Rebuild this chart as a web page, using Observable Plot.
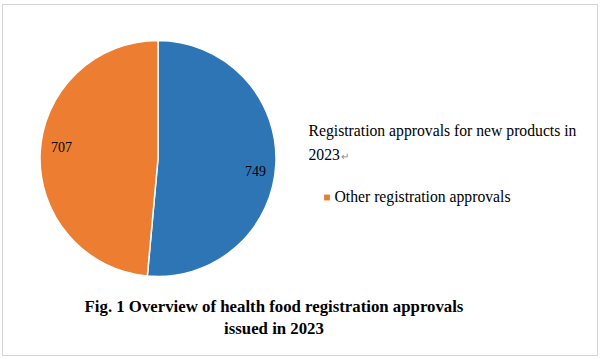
<!DOCTYPE html>
<html>
<head>
<meta charset="utf-8">
<script src="https://cdn.jsdelivr.net/npm/d3@7"></script>
<script src="https://cdn.jsdelivr.net/npm/@observablehq/plot@0.6"></script>
<style>
  html, body { margin: 0; padding: 0; background: #fff; }
  #wrap { position: relative; width: 601px; height: 359px; overflow: hidden; font-family: "Liberation Serif", "Times New Roman", serif; }
  #frame { position: absolute; left: 2px; top: 4px; width: 594px; height: 350px; border: 1px solid #d4d4d4; }
  #chart { position: absolute; left: 0; top: 0; }
  #caption { position: absolute; left: 0; top: 296px; width: 548px; text-align: center; font-weight: bold; font-size: 16.8px; line-height: 22px; color: #000; }
</style>
</head>
<body>
<div id="wrap">
  <div id="frame"></div>
  <div id="chart"></div>
  <div id="caption"></div>
</div>
<script>
// ---- data ----
const categories = ["Registration approvals for new products in 2023", "Other registration approvals"];
const values = [749, 707];
const colors = ["#2E75B6", "#ED7D31"];
const legendLabels = ["Registration approvals for new products in\n2023\u21B5", "Other registration approvals"];
const captionLines = ["Fig. 1 Overview of health food registration approvals", "issued in 2023"];

// ---- layout ----
const W = 601, H = 290;
const cx = 158, cy = 158.5, R = 118, labelR = 97;
const labelDy = [9.5, -6.5];

const data = categories.map((c, i) => ({category: c, value: values[i], color: colors[i]}));
const arcs = d3.pie().sort(null).value(d => d.value)(data);
const arcGen = d3.arc().innerRadius(0).outerRadius(R);
const labelArc = d3.arc().innerRadius(labelR).outerRadius(labelR);
const labels = arcs.map((a, i) => {
  const [x, y] = labelArc.centroid(a);
  return {x: cx + x, y: cy + y + labelDy[i], text: String(a.data.value)};
});

const legend = [
  {x: 308, y: 143, text: legendLabels[0], marker: false, color: colors[0]},
  {x: 334, y: 197, text: legendLabels[1], marker: true, color: colors[1]}
];

const pieMark = () => {
  const g = d3.create("svg:g").attr("transform", `translate(${cx},${cy})`);
  g.selectAll("path").data(arcs).join("path")
    .attr("d", arcGen)
    .attr("fill", d => d.data.color)
    .attr("stroke", "#fff")
    .attr("stroke-width", 1.5)
    .attr("stroke-linejoin", "round");
  return g.node();
};

const plot = Plot.plot({
  width: W,
  height: H,
  margin: 0,
  x: {type: "identity", axis: null},
  y: {type: "identity", axis: null},
  style: {background: "transparent", fontFamily: "'Liberation Serif', 'Times New Roman', serif"},
  marks: [
    pieMark,
    Plot.text(labels, {x: "x", y: "y", text: "text", fontSize: 14, fill: "#000", dy: -1}),
    Plot.text(legend, {x: "x", y: "y", text: "text", textAnchor: "start", lineAnchor: "middle", lineHeight: 1.52, fontSize: 15.7, fill: "#000", dy: -3}),
    Plot.dot(legend.filter(d => d.marker), {x: d => d.x - 7.5, y: "y", symbol: "square", r: 3.3, fill: "color", stroke: null})
  ]
});

// grey the paragraph mark
d3.select(plot).selectAll("tspan, text").each(function() {
  const el = this;
  if (el.childElementCount === 0 && el.textContent.includes("\u21B5")) {
    const t = el.textContent.replace("\u21B5", "");
    el.textContent = t;
    d3.select(el).append("tspan").attr("fill", "#888").attr("font-size", "10px").attr("dx", "1").text("\u21B5");
  }
});

document.getElementById("chart").appendChild(plot);
const cap = document.getElementById("caption");
captionLines.forEach(l => { const d = document.createElement("div"); d.textContent = l; cap.appendChild(d); });
</script>
</body>
</html>
